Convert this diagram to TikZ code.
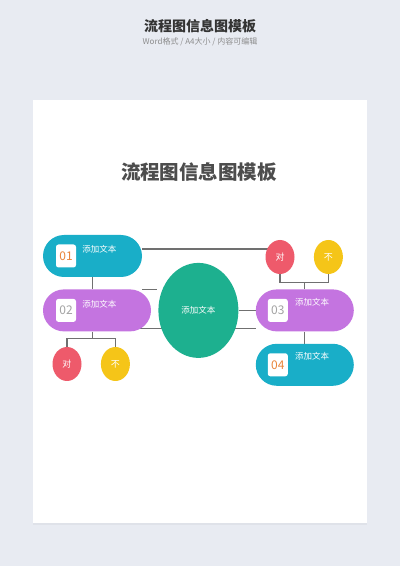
\documentclass[tikz,border=0pt]{standalone}
\usepackage{fontspec}
\setmainfont{Noto Sans CJK SC}
\usepackage{xcolor}
\usepackage{tikz}
\usetikzlibrary{shapes.geometric, positioning, backgrounds, shadows}
\definecolor{pagebg}{HTML}{E8EBF2}
\definecolor{headgray}{HTML}{333333}
\definecolor{subgray}{HTML}{8C8C8C}
\definecolor{titlegray}{HTML}{4D4D4D}
\definecolor{linegray}{HTML}{707070}
\definecolor{pillcyan}{HTML}{19AEC8}
\definecolor{pillpurple}{HTML}{C474E0}
\definecolor{blobgreen}{HTML}{1DB08F}
\definecolor{dotred}{HTML}{EE5A6B}
\definecolor{dotyellow}{HTML}{F5C518}
\definecolor{numorange}{HTML}{E9853A}
\definecolor{numgray}{HTML}{A3A3A3}
\tikzset{
    flow/.style={x=1pt, y=1pt, font=\fontsize{8.5}{10}\selectfont},
    flow pill/.style={rounded corners=21pt, minimum width=98pt,
        minimum height=42pt, inner sep=0pt},
    flow tag/.style={fill=white, rounded corners=2.5pt, minimum width=20pt,
        minimum height=23pt, inner sep=0pt, font=\fontsize{12}{12}\selectfont},
    flow text/.style={text=white, inner sep=0pt},
    flow blob/.style={ellipse, fill=blobgreen, text=white, minimum width=80pt,
        minimum height=95pt, inner sep=0pt},
    flow dot/.style={ellipse, text=white, minimum width=29pt,
        minimum height=34pt, inner sep=0pt, font=\fontsize{9}{10}\selectfont},
    flow line/.style={draw=linegray, line width=1.1pt},
}
\begin{document}
\begin{tikzpicture}[flow]
  \begin{scope}[on background layer]
    \fill[pagebg] (0,0) rectangle (400,566);
    \fill[white, drop shadow={shadow xshift=0pt, shadow yshift=-2pt, opacity=0.08}] (33,43) rectangle (367,466);
  \end{scope}
  \node[inner sep=0pt, text=headgray, font=\bfseries\fontsize{14}{16}\selectfont] (head) at (200,540) {流程图信息图模板};
  \node[inner sep=0pt, text=subgray, font=\fontsize{8}{9}\selectfont, below=5pt of head] (sub) {Word格式 / A4大小 / 内容可编辑};
  \node[inner sep=0pt, text=titlegray, font=\bfseries\fontsize{19.5}{22}\selectfont] (title) at (199,394) {流程图信息图模板};
  \node[flow pill, fill=pillcyan, minimum width=99pt] (n01) at (92.5,310) {};
  \node[flow pill, fill=pillpurple, minimum width=108pt, below right=12pt and 0pt of n01.south west] (n02) {};
  \node[flow blob, right=7pt of n02] (center) {添加文本};
  \node[flow pill, fill=pillpurple, right=17pt of center] (n03) {};
  \node[flow pill, fill=pillcyan, below=12pt of n03] (n04) {};
  \node[flow tag, text=numorange, right=13pt of n01.west] (t01) {01};
  \node[flow tag, text=numgray, right=13pt of n02.west] (t02) {02};
  \node[flow tag, text=numgray, right=12pt of n03.west] (t03) {03};
  \node[flow tag, text=numorange, right=12pt of n04.west] (t04) {04};
  \node[flow text, below right=1pt and 6pt of t01.north east] (l01) {添加文本};
  \node[flow text, below right=1pt and 6pt of t02.north east] (l02) {添加文本};
  \node[flow text, below right=-1pt and 7pt of t03.north east] (l03) {添加文本};
  \node[flow text, below right=-1pt and 7pt of t04.north east] (l04) {添加文本};
  \node[flow dot, fill=dotred] (yes1) at (67,202) {对};
  \node[flow dot, fill=dotyellow, right=19pt of yes1] (no1) {不};
  \node[flow dot, fill=dotred] (yes2) at (280,309) {对};
  \node[flow dot, fill=dotyellow, right=19pt of yes2] (no2) {不};
  \begin{scope}[on background layer]
    \draw[flow line] (n01.south) -- (n02.north -| n01.south);
    \draw[flow line] (n02.south -| n01.south) -- ++(0,-7) coordinate (fork1);
    \draw[flow line] (yes1.north) |- (fork1) -| (no1.north);
    \draw[flow line] (n03.north) -- ++(0,7) coordinate (fork2);
    \draw[flow line] (yes2.south) |- (fork2) -| (no2.south);
    \draw[flow line] (n03.south) -- (n04.north);
    \draw[flow line] ([yshift=7pt]n01.east) -- ([yshift=7pt]n01.east -| yes2.center);
    \draw[flow line] (n02.north -| n01.east) -- ++(15,0);
    \draw[flow line] ([xshift=-21pt, yshift=3pt]n02.south east) -- ([xshift=-21pt, yshift=3pt]n02.south east -| center.center);
    \draw[flow line] (center.east) -- (n03.west);
    \draw[flow line] ([yshift=3pt]n03.south west) -- ++(-22,0);
  \end{scope}
\end{tikzpicture}
\end{document}
